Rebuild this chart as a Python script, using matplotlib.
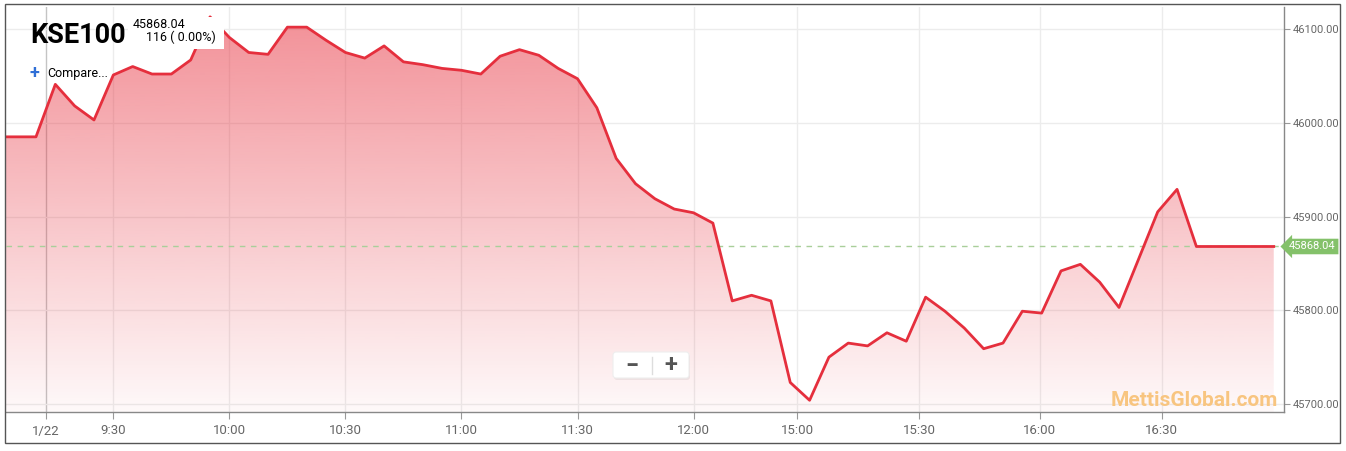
import numpy as np
import matplotlib
matplotlib.use("Agg")
import matplotlib.pyplot as plt
from matplotlib.patches import Rectangle, FancyBboxPatch, Polygon
from matplotlib.transforms import IdentityTransform
from matplotlib.lines import Line2D

# ---------------- data ----------------
title = "KSE100"
last_value = 45868.04
change_text = "116 ( 0.00%)"
compare_text = "Compare..."
watermark = "MettisGlobal.com"

# index values of the intraday series (ordinal axis, first point starts at index -2)
start_index = -2
values = [45985, 45985, 45985, 46041, 46018, 46003, 46051, 46060, 46052, 46052,
          46067, 46113, 46091, 46075, 46073, 46102, 46102, 46088, 46075, 46069,
          46082, 46065, 46062, 46058, 46056, 46052, 46071, 46078, 46072, 46058,
          46047, 46016, 45962, 45935, 45919, 45908, 45904, 45893, 45810, 45816,
          45810, 45723, 45704, 45750, 45765, 45762, 45776, 45767, 45814, 45799,
          45781, 45759, 45765, 45799, 45797, 45842, 45849, 45830, 45803, 45854,
          45905, 45929, 45868.04, 45868.04, 45868.04, 45868.04, 45868.04]

tick_labels = ["1/22", "9:30", "10:00", "10:30", "11:00", "11:30", "12:00",
               "15:00", "15:30", "16:00", "16:30"]
tick_pos = [0.52, 4, 10, 16, 22, 28, 34, 39.35, 45.66, 51.9, 58.2]
y_ticks = [45700, 45800, 45900, 46000, 46100]

# ---------------- figure ----------------
W, H = 1346, 451
fig = plt.figure(figsize=(W / 100, H / 100), dpi=100)
fig.patch.set_facecolor("white")
plt.rcParams["font.family"] = ["Roboto", "DejaVu Sans"]

def fx(px):
    return px / W

def fy(py):
    return 1 - py / H

ax = fig.add_axes([fx(6), fy(412), fx(1284) - fx(6), fy(7) - fy(412)])
ax.set_facecolor("white")

x = np.arange(len(values)) + start_index
xlim = (-1.55, 64.53)
ylim = (45691.5, 46123.5)

# gradient fill under the line
n = 256
g = np.linspace(0, 1, n)
rgba = np.zeros((n, 1, 4))
rgba[..., 0] = 232 / 255
rgba[..., 1] = 50 / 255
rgba[..., 2] = 63 / 255
rgba[..., 3] = (0.03 + 0.52 * g)[:, None]
im = ax.imshow(rgba, extent=[xlim[0], xlim[1], ylim[0], ylim[1]], origin="lower",
               aspect="auto", zorder=1, interpolation="bilinear")
verts = [(x[0], ylim[0])] + list(zip(x, values)) + [(x[-1], ylim[0])]
clip = Polygon(verts, closed=True, facecolor="none", edgecolor="none")
ax.add_patch(clip)
im.set_clip_path(clip)

ax.plot(x, values, color="#e52f3d", lw=2, zorder=4, solid_joinstyle="round")
ax.axhline(last_value, color="#a9cf9a", ls=(0, (4, 4)), lw=1, zorder=3)

ax.set_xlim(*xlim)
ax.set_ylim(*ylim)

ax.set_xticks(tick_pos, tick_labels)
ax.yaxis.tick_right()
ax.set_yticks(y_ticks, [f"{v:.2f}" for v in y_ticks])
ax.grid(True, color="#ececec", lw=1, zorder=0)
ax.set_axisbelow(True)
ax.get_xgridlines()[0].set_color("#c4c4c4")

ax.tick_params(axis="x", length=5, color="#999999", labelcolor="#666666",
               labelsize=9.5, pad=4)
ax.tick_params(axis="y", length=4, color="#999999", labelcolor="#666666",
               labelsize=8, pad=2)
for s in ["left", "top"]:
    ax.spines[s].set_visible(False)
for s in ["right", "bottom"]:
    ax.spines[s].set_color("#888888")
    ax.spines[s].set_linewidth(1)

# last price tag
ax.text(1.0 + 5 / 1278, last_value, f"{last_value:.2f}", transform=ax.get_yaxis_transform(),
        ha="left", va="center", fontsize=8, color="white", zorder=6, clip_on=False,
        bbox=dict(boxstyle="larrow,pad=0.25", fc="#84c16a", ec="none"))

T = IdentityTransform()

def P(px, py):
    return (px, H - py)

# white box covering the peak (info box)
fig.add_artist(Rectangle(P(128, 49), 96, 32, transform=T, facecolor="white",
                         edgecolor="none", zorder=5))
fig.text(*P(30, 43), title, transform=T, fontsize=19.5, fontweight="bold",
         color="black", ha="left", va="baseline", zorder=6)
fig.text(*P(133, 28), f"{last_value:.2f}", transform=T, fontsize=9, color="black",
         ha="left", va="baseline", zorder=6)
fig.text(*P(146, 41), change_text, transform=T, fontsize=9, color="black",
         ha="left", va="baseline", zorder=6)
fig.text(*P(29, 73), "+", transform=T, fontsize=13, fontweight="bold", color="#2f6fd6",
         ha="left", va="center", zorder=6)
fig.text(*P(47, 73), compare_text, transform=T, fontsize=9, color="black",
         ha="left", va="center", zorder=6)

# zoom buttons
fig.add_artist(FancyBboxPatch(P(614, 380), 76, 26, boxstyle="round,pad=0,rounding_size=3",
                              transform=T, facecolor="#000000", alpha=0.06,
                              edgecolor="none", zorder=5))
fig.add_artist(FancyBboxPatch(P(613, 378), 76, 26, boxstyle="round,pad=0,rounding_size=3",
                              transform=T, facecolor="white", edgecolor="#eeeeee",
                              lw=0.8, zorder=5))
fig.add_artist(Line2D([652, 652], [H - 357, H - 374], transform=T, color="#dddddd",
                      lw=1, zorder=6))
fig.text(*P(632, 366), "\u2212", transform=T, fontsize=17, fontweight="bold",
         color="#555555", ha="center", va="center", zorder=6)
fig.text(*P(671, 366), "+", transform=T, fontsize=17, fontweight="bold",
         color="#555555", ha="center", va="center", zorder=6)

# watermark
fig.text(*P(1278, 406), watermark, transform=T, fontsize=15, fontweight="bold",
         color="#f8c580", ha="right", va="baseline", zorder=6)

# outer frame
fig.add_artist(Rectangle(P(5, 443), 1335, 439, transform=T, fill=False,
                         edgecolor="#555555", lw=1, zorder=7))

fig.savefig("out.png", dpi=100)
